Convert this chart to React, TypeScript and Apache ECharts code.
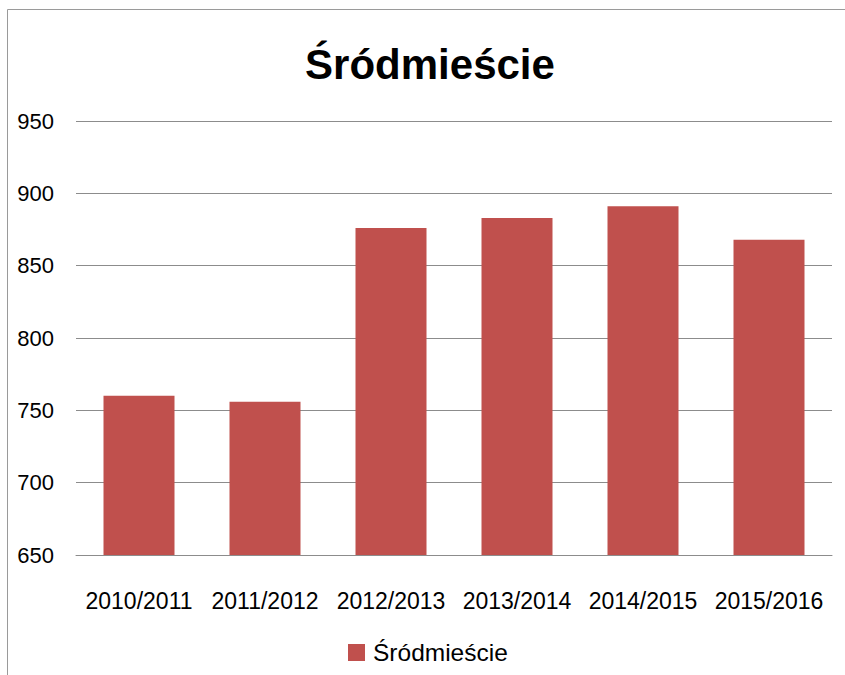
import React, { useEffect, useRef } from "react";
import * as echarts from "echarts";

const titleText = "Śródmieście";
const seriesName = "Śródmieście";
const categories = ["2010/2011", "2011/2012", "2012/2013", "2013/2014", "2014/2015", "2015/2016"];
const values = [760, 756, 876, 883, 891, 868];
const yMin = 650;
const yMax = 950;
const yStep = 50;

export default function App() {
  const ref = useRef<HTMLDivElement>(null);
  useEffect(() => {
    if (!ref.current) return;
    const chart = echarts.init(ref.current, undefined, { renderer: "svg" });
    const font = "Liberation Sans";
    chart.setOption({
      animation: false,
      backgroundColor: "#ffffff",
      title: {
        text: titleText,
        left: 430,
        textAlign: "center",
        top: 43,
        padding: 0,
        textStyle: { fontFamily: font, fontWeight: "bold", fontSize: 42, color: "#000" },
      },
      graphic: [
        {
          type: "rect",
          shape: { x: 7.5, y: 9.5, width: 900, height: 800 },
          style: { fill: "none", stroke: "#9a9a9a", lineWidth: 1 },
          silent: true,
        },
      ],
      legend: {
        data: [seriesName],
        top: 640,
        left: 348,
        padding: 0,
        icon: "rect",
        itemWidth: 17,
        itemHeight: 17,
        itemGap: 10,
        textStyle: { fontFamily: font, fontSize: 24.5, color: "#000", padding: [0, 0, 0, 3] },
      },
      grid: { left: 76, right: 13, top: 121, bottom: 120, containLabel: false },
      xAxis: {
        type: "category",
        data: categories,
        axisLine: { show: true, lineStyle: { color: "#8c8c8c", width: 1 } },
        axisTick: { show: false },
        axisLabel: { fontFamily: font, fontSize: 23, color: "#000", margin: 34, interval: 0 },
      },
      yAxis: {
        type: "value",
        min: yMin,
        max: yMax,
        interval: yStep,
        axisLine: { show: false },
        axisTick: { show: false },
        splitLine: { show: true, lineStyle: { color: "#8c8c8c", width: 1 } },
        axisLabel: { fontFamily: font, fontSize: 22, color: "#000", margin: 22 },
      },
      series: [
        {
          name: seriesName,
          type: "bar",
          data: values,
          barWidth: 71,
          itemStyle: { color: "#c0504d" },
        },
      ],
    });
    return () => chart.dispose();
  }, []);
  return (
    <div
      ref={ref}
      style={{ position: "fixed", left: 0, top: 0, width: 845, height: 675 }}
    />
  );
}
